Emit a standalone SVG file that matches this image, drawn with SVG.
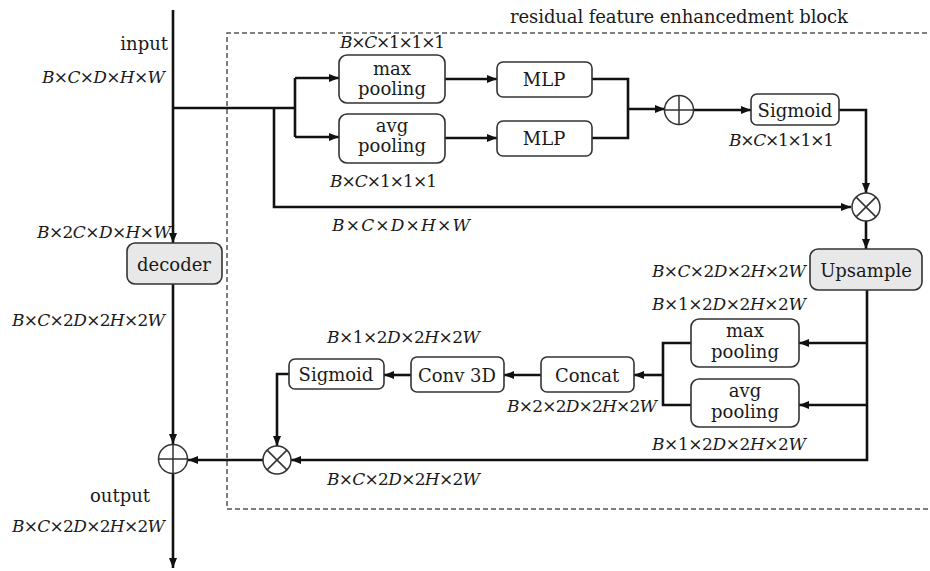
<svg xmlns="http://www.w3.org/2000/svg" width="930" height="571" viewBox="0 0 930 571">
<style>
text{font-family:"DejaVu Serif","Liberation Serif",serif;fill:#1a1a1a}
.t{font-size:18px;text-anchor:middle}
.m{font-size:17px}
.i{font-style:italic}
.box{fill:#fff;stroke:#333;stroke-width:1.6}
.gbox{fill:#e8e8e8;stroke:#333;stroke-width:1.6}
.ln{fill:none;stroke:#111;stroke-width:2.6}
.op{fill:#fff;stroke:#333;stroke-width:1.5}
.dash{fill:none;stroke:#555;stroke-width:1.5;stroke-dasharray:5 3}
</style>
<defs>
<marker id="a" markerUnits="userSpaceOnUse" markerWidth="10" markerHeight="8" refX="10" refY="4" orient="auto">
<path d="M0,0 L10,4 L0,8 z" fill="#111"/>
</marker>
</defs>
<rect width="930" height="571" fill="#fff"/>
<path class="dash" d="M935,33 H227 V509 H935"/>
<text x="510" y="23" style="font-size:18px" textLength="338" lengthAdjust="spacing">residual feature enhancedment block</text>

<g id="connectors">
<path class="ln" d="M173,10 V243" marker-end="url(#a)"/>
<path class="ln" d="M173,284 V444" marker-end="url(#a)"/>
<path class="ln" d="M173,474 V568" marker-end="url(#a)"/>
<path class="ln" d="M173,108 H295"/>
<path class="ln" d="M295,78 V137"/>
<path class="ln" d="M295,78 H339" marker-end="url(#a)"/>
<path class="ln" d="M295,137 H339" marker-end="url(#a)"/>
<path class="ln" d="M274,108 V207 H851" marker-end="url(#a)"/>
<path class="ln" d="M445,79 H497" marker-end="url(#a)"/>
<path class="ln" d="M445,138 H497" marker-end="url(#a)"/>
<path class="ln" d="M592,79 H628 V138 H592"/>
<path class="ln" d="M628,109 H665" marker-end="url(#a)"/>
<path class="ln" d="M694,110 H751" marker-end="url(#a)"/>
<path class="ln" d="M839,110 H866 V193" marker-end="url(#a)"/>
<path class="ln" d="M866,221 V249" marker-end="url(#a)"/>
<path class="ln" d="M867,290 V460 H291" marker-end="url(#a)"/>
<path class="ln" d="M867,343 H799" marker-end="url(#a)"/>
<path class="ln" d="M867,405 H799" marker-end="url(#a)"/>
<path class="ln" d="M691,343 H663 V405 H691"/>
<path class="ln" d="M663,375 H634" marker-end="url(#a)"/>
<path class="ln" d="M541,375 H504" marker-end="url(#a)"/>
<path class="ln" d="M411,375 H384" marker-end="url(#a)"/>
<path class="ln" d="M289,374 H277 V446" marker-end="url(#a)"/>
<path class="ln" d="M263,460 H188" marker-end="url(#a)"/>
</g>

<g id="maxpool1"><rect class="box" x="339" y="55" width="106" height="48" rx="8"/><text class="t" x="392" y="75">max</text><text class="t" x="392" y="95">pooling</text></g>
<g id="avgpool1"><rect class="box" x="339" y="114" width="106" height="49" rx="8"/><text class="t" x="392" y="132">avg</text><text class="t" x="392" y="152">pooling</text></g>
<g id="mlp1"><rect class="box" x="497" y="62" width="95" height="35" rx="6"/><text class="t" x="544" y="86">MLP</text></g>
<g id="mlp2"><rect class="box" x="497" y="121" width="95" height="35" rx="6"/><text class="t" x="544" y="145">MLP</text></g>
<g id="add1"><circle class="op" cx="679" cy="110" r="14.5"/><path stroke="#333" stroke-width="1.5" d="M664.5,110 H693.5 M679,95.5 V124.5"/></g>
<g id="sigmoid1"><rect class="box" x="751" y="94" width="88" height="31" rx="6"/><text class="t" x="795" y="117">Sigmoid</text></g>
<g id="mul1"><circle class="op" cx="866" cy="207" r="14"/><path stroke="#333" stroke-width="1.5" d="M856.1,197.1 L875.9,216.9 M875.9,197.1 L856.1,216.9"/></g>
<g id="upsample"><rect class="gbox" x="810" y="249" width="112" height="41" rx="8"/><text class="t" x="866" y="277">Upsample</text></g>
<g id="maxpool2"><rect class="box" x="691" y="319" width="108" height="48" rx="8"/><text class="t" x="745" y="337">max</text><text class="t" x="745" y="358">pooling</text></g>
<g id="avgpool2"><rect class="box" x="691" y="379" width="108" height="48" rx="8"/><text class="t" x="745" y="397">avg</text><text class="t" x="745" y="418">pooling</text></g>
<g id="concat"><rect class="box" x="541" y="357" width="93" height="35" rx="6"/><text class="t" x="587" y="382">Concat</text></g>
<g id="conv3d"><rect class="box" x="411" y="357" width="93" height="35" rx="6"/><text class="t" x="457" y="382">Conv 3D</text></g>
<g id="sigmoid2"><rect class="box" x="289" y="359" width="95" height="30" rx="6"/><text class="t" x="336" y="381">Sigmoid</text></g>
<g id="mul2"><circle class="op" cx="277" cy="460" r="14"/><path stroke="#333" stroke-width="1.5" d="M267.1,450.1 L286.9,469.9 M286.9,450.1 L267.1,469.9"/></g>
<g id="add2"><circle class="op" cx="173" cy="459" r="14.5"/><path stroke="#333" stroke-width="1.5" d="M158.5,459 H187.5 M173,444.5 V473.5"/></g>
<g id="decoder"><rect class="gbox" x="127" y="243" width="95" height="41" rx="8"/><text class="t" x="174" y="271">decoder</text></g>

<g id="labels">
<text x="168" y="50" style="font-size:18px;text-anchor:end">input</text>
<text x="150" y="502" style="font-size:18px;text-anchor:end">output</text>
<text class="m" x="42" y="83" textLength="123" lengthAdjust="spacing"><tspan class="i">B</tspan>×<tspan class="i">C</tspan>×<tspan class="i">D</tspan>×<tspan class="i">H</tspan>×<tspan class="i">W</tspan></text>
<text class="m" x="340" y="48" textLength="105" lengthAdjust="spacing"><tspan class="i">B</tspan>×<tspan class="i">C</tspan>×1×1×1</text>
<text class="m" x="330" y="187" textLength="107" lengthAdjust="spacing"><tspan class="i">B</tspan>×<tspan class="i">C</tspan>×1×1×1</text>
<text class="m" x="729" y="146" textLength="105" lengthAdjust="spacing"><tspan class="i">B</tspan>×<tspan class="i">C</tspan>×1×1×1</text>
<text class="m" x="332" y="231" textLength="138" lengthAdjust="spacing"><tspan class="i">B</tspan>×<tspan class="i">C</tspan>×<tspan class="i">D</tspan>×<tspan class="i">H</tspan>×<tspan class="i">W</tspan></text>
<text class="m" x="37" y="238" textLength="134" lengthAdjust="spacing"><tspan class="i">B</tspan>×2<tspan class="i">C</tspan>×<tspan class="i">D</tspan>×<tspan class="i">H</tspan>×<tspan class="i">W</tspan></text>
<text class="m" x="12" y="326" textLength="153" lengthAdjust="spacing"><tspan class="i">B</tspan>×<tspan class="i">C</tspan>×2<tspan class="i">D</tspan>×2<tspan class="i">H</tspan>×2<tspan class="i">W</tspan></text>
<text class="m" x="652" y="277" textLength="154" lengthAdjust="spacing"><tspan class="i">B</tspan>×<tspan class="i">C</tspan>×2<tspan class="i">D</tspan>×2<tspan class="i">H</tspan>×2<tspan class="i">W</tspan></text>
<text class="m" x="652" y="310" textLength="154" lengthAdjust="spacing"><tspan class="i">B</tspan>×1×2<tspan class="i">D</tspan>×2<tspan class="i">H</tspan>×2<tspan class="i">W</tspan></text>
<text class="m" x="652" y="450" textLength="154" lengthAdjust="spacing"><tspan class="i">B</tspan>×1×2<tspan class="i">D</tspan>×2<tspan class="i">H</tspan>×2<tspan class="i">W</tspan></text>
<text class="m" x="327" y="343" textLength="153" lengthAdjust="spacing"><tspan class="i">B</tspan>×1×2<tspan class="i">D</tspan>×2<tspan class="i">H</tspan>×2<tspan class="i">W</tspan></text>
<text class="m" x="507" y="412" textLength="150" lengthAdjust="spacing"><tspan class="i">B</tspan>×2×2<tspan class="i">D</tspan>×2<tspan class="i">H</tspan>×2<tspan class="i">W</tspan></text>
<text class="m" x="327" y="485" textLength="153" lengthAdjust="spacing"><tspan class="i">B</tspan>×<tspan class="i">C</tspan>×2<tspan class="i">D</tspan>×2<tspan class="i">H</tspan>×2<tspan class="i">W</tspan></text>
<text class="m" x="12" y="532" textLength="153" lengthAdjust="spacing"><tspan class="i">B</tspan>×<tspan class="i">C</tspan>×2<tspan class="i">D</tspan>×2<tspan class="i">H</tspan>×2<tspan class="i">W</tspan></text>
</g>
</svg>
